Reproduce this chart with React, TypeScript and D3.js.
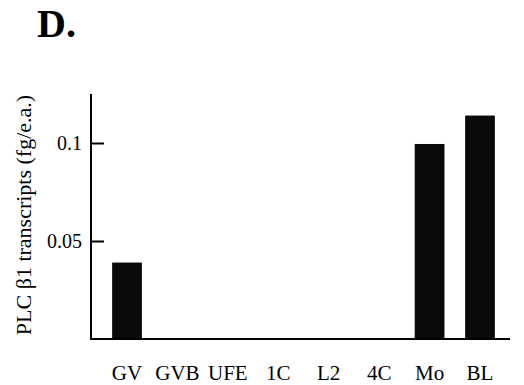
import React, { useRef, useEffect } from 'react';
import * as d3 from 'd3';

const categories = ['GV', 'GVB', 'UFE', '1C', 'L2', '4C', 'Mo', 'BL'];
const transcripts = [0.039, 0, 0, 0, 0, 0, 0.0995, 0.114];
const yTicks = [0.05, 0.1];

const W = 524;
const H = 385;

export default function App() {
  const svgRef = useRef<SVGSVGElement | null>(null);

  useEffect(() => {
    if (!svgRef.current) return;
    const svg = d3.select(svgRef.current);
    svg.selectAll('*').remove();

    const font = 'Liberation Serif, DejaVu Serif, Times, serif';
    const axisX = 91;
    const baseY = 339;

    const x = d3.scalePoint<string>().domain(categories).range([127, 480]);
    const barW = x.step() * 0.59;

    const y = d3.scaleLinear().domain([0, 0.125]).range([baseY, 94]);

    // panel letter
    svg.append('text')
      .attr('x', 37)
      .attr('y', 37)
      .style('font-family', font)
      .attr('font-weight', 'bold')
      .attr('font-size', 40)
      .text('D.');

    // bars
    svg.append('g')
      .selectAll('rect')
      .data(transcripts)
      .join('rect')
      .attr('x', (_d, i) => x(categories[i])! - barW / 2)
      .attr('y', d => y(d))
      .attr('width', barW)
      .attr('height', d => baseY - y(d))
      .attr('fill', '#0a0a0a');

    // y axis (ticks inside)
    const yAxis = svg.append('g')
      .attr('transform', `translate(${axisX},0)`)
      .call(d3.axisRight(y).tickValues(yTicks).tickSize(13).tickFormat(() => ''));
    yAxis.select('.domain').remove();
    yAxis.selectAll('line').attr('stroke', '#000').attr('stroke-width', 2);

    svg.append('line')
      .attr('x1', axisX).attr('x2', axisX)
      .attr('y1', y(0.125)).attr('y2', baseY + 1)
      .attr('stroke', '#000').attr('stroke-width', 2);

    svg.append('g')
      .selectAll('text')
      .data(yTicks)
      .join('text')
      .attr('x', axisX - 9)
      .attr('y', d => y(d))
      .attr('dy', '0.35em')
      .attr('text-anchor', 'end')
      .style('font-family', font)
      .attr('font-size', 20)
      .text(d => String(d));

    // baseline
    svg.append('line')
      .attr('x1', axisX).attr('x2', 510)
      .attr('y1', baseY).attr('y2', baseY)
      .attr('stroke', '#000').attr('stroke-width', 2);

    // category labels
    svg.append('g')
      .selectAll('text')
      .data(categories)
      .join('text')
      .attr('x', d => x(d)!)
      .attr('y', 380)
      .attr('text-anchor', 'middle')
      .style('font-family', font)
      .attr('font-size', 21)
      .text(d => d);

    // y title
    svg.append('text')
      .attr('transform', `translate(31,215) rotate(-90)`)
      .attr('text-anchor', 'middle')
      .style('font-family', font)
      .attr('font-size', 22)
      .text('PLC \u03b21 transcripts (fg/e.a.)');
  }, []);

  return (
    <div style={{ position: 'absolute', left: 0, top: 0 }}>
      <svg ref={svgRef} width={W} height={H} style={{ display: 'block', background: '#fff' }}></svg>
    </div>
  );
}
